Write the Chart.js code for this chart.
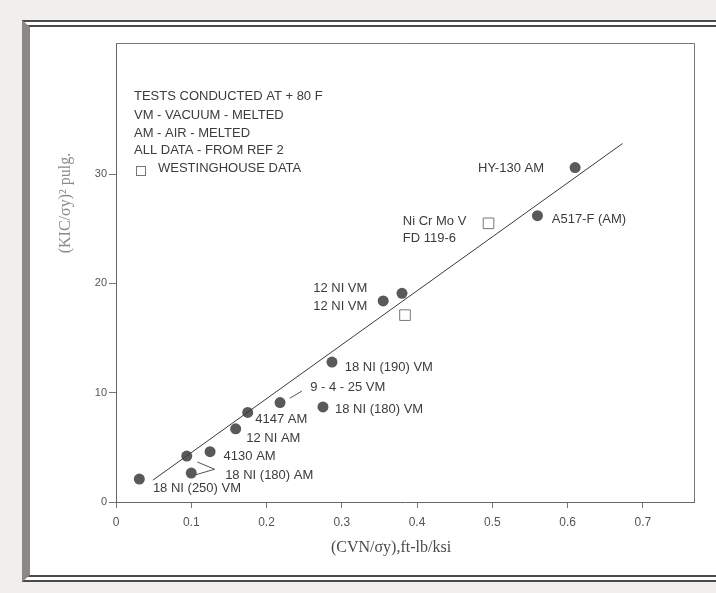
<!DOCTYPE html>
<html lang="en">
<head>
  <meta charset="UTF-8">
  <title>KIC vs CVN</title>
  <script src="https://cdn.jsdelivr.net/npm/chart.js"></script>
  <style>
    html, body { margin: 0; padding: 0; }
    body { width: 716px; height: 593px; background: #f1efed; position: relative; overflow: hidden; font-family: "Liberation Sans", Arial, sans-serif; }
    .frame {
      position: absolute; left: 22px; top: 20px; width: 760px; height: 548px;
      border-top: 7px double #4a4a4a; border-bottom: 7px double #4a4a4a;
      border-left: 8px solid #8d8883; background: #fff;
    }
    canvas { position: absolute; left: 0; top: 0; }
  </style>
</head>
<body>
  <div class="frame"></div>
  <canvas id="chart" width="716" height="593"></canvas>

  <script>
    // alloy data points (filled circles)
    const dotX = [0.031, 0.094, 0.100, 0.125, 0.159, 0.175, 0.218, 0.275, 0.287, 0.355, 0.380, 0.560, 0.610];
    const dotY = [2.1, 4.2, 2.65, 4.6, 6.7, 8.2, 9.1, 8.7, 12.8, 18.4, 19.1, 26.2, 30.6];

    // Westinghouse data (open squares)
    const sqX = [0.384, 0.495];
    const sqY = [17.1, 25.5];

    // fitted line end points
    const fitX = [0.049, 0.673];
    const fitY = [2.0, 32.8];

    const xTicks = [0, 0.1, 0.2, 0.3, 0.4, 0.5, 0.6, 0.7];
    const xTickLabels = ["0", "0.1", "0.2", "0.3", "0.4", "0.5", "0.6", "0.7"];
    const yTicks = [0, 10, 20, 30];
    const yTickLabels = ["0", "10", "20", "30"];

    // point labels, anchored at left / middle in data units
    const labelText = ["HY-130 AM", "A517-F (AM)", "Ni Cr Mo V", "FD 119-6", "12 NI VM", "12 NI VM",
      "18 NI (190) VM", "9 - 4 - 25 VM", "18 NI (180) VM", "4147 AM", "12 NI AM", "4130 AM",
      "18 NI (180) AM", "18 NI (250) VM"];
    const labelX = [0.481, 0.579, 0.381, 0.381, 0.262, 0.262, 0.304, 0.258, 0.291, 0.185, 0.173, 0.143, 0.145, 0.049];
    const labelY = [30.5, 25.9, 25.7, 24.15, 19.5, 17.9, 12.35, 10.5, 8.5, 7.6, 5.85, 4.2, 2.4, 1.2];

    // leader lines
    const lead1X = [0.231, 0.247];
    const lead1Y = [9.5, 10.15];
    const lead2X = [0.108, 0.131, 0.105];
    const lead2Y = [3.66, 3.0, 2.47];

    const notes = ["TESTS CONDUCTED AT + 80 F", "VM - VACUUM - MELTED", "AM - AIR - MELTED", "ALL DATA - FROM REF 2", "WESTINGHOUSE DATA"];

    const pts = (xs, ys) => xs.map((x, i) => ({ x: x, y: ys[i] }));

    const extras = {
      id: "extras",
      beforeDatasetsDraw(chart) {
        const { ctx, chartArea: a } = chart;
        ctx.save();
        ctx.strokeStyle = "#777";
        ctx.lineWidth = 1;
        ctx.beginPath();
        ctx.moveTo(a.left, a.top + 0.5);
        ctx.lineTo(a.right + 0.5, a.top + 0.5);
        ctx.lineTo(a.right + 0.5, a.bottom);
        ctx.stroke();
        ctx.restore();
      },
      afterDatasetsDraw(chart) {
        const { ctx, chartArea: a, scales } = chart;
        ctx.save();
        ctx.fillStyle = "#3c3c3c";
        ctx.font = "13px 'Liberation Sans', Arial, sans-serif";
        ctx.textBaseline = "middle";
        ctx.textAlign = "left";
        labelText.forEach((t, i) => {
          ctx.fillText(t, scales.x.getPixelForValue(labelX[i]), scales.y.getPixelForValue(labelY[i]));
        });

        // notes block
        const lineY = [96, 115, 133, 150, 168];
        notes.forEach((t, i) => {
          const x = i === 4 ? a.left + 42 : a.left + 18;
          ctx.fillText(t, x, lineY[i]);
        });
        ctx.strokeStyle = "#777";
        ctx.lineWidth = 1;
        ctx.strokeRect(a.left + 20.5, 166.5, 9, 9);

        // axis titles
        ctx.fillStyle = "#4a4a4a";
        ctx.font = "16px 'Liberation Serif', 'Times New Roman', serif";
        ctx.textAlign = "center";
        ctx.fillText("(CVN/σy),ft-lb/ksi", 391, 548);

        ctx.fillStyle = "#8a8a8a";
        ctx.translate(66, 203);
        ctx.rotate(-Math.PI / 2);
        ctx.fillText("(KIC/σy)² pulg.", 0, 0);
        ctx.restore();
      }
    };

    new Chart(document.getElementById("chart"), {
      type: "scatter",
      data: {
        datasets: [
          {
            data: pts(fitX, fitY), showLine: true, pointRadius: 0,
            borderColor: "#3a3a3a", borderWidth: 1
          },
          {
            data: pts(lead1X, lead1Y), showLine: true, pointRadius: 0,
            borderColor: "#555", borderWidth: 1
          },
          {
            data: pts(lead2X, lead2Y), showLine: true, pointRadius: 0,
            borderColor: "#555", borderWidth: 1
          },
          {
            data: pts(dotX, dotY), pointRadius: 5.5,
            backgroundColor: "#595959", borderColor: "#595959", borderWidth: 0
          },
          {
            data: pts(sqX, sqY), pointStyle: "rect", pointRadius: 7.5,
            backgroundColor: "#fff", borderColor: "#777", borderWidth: 1
          }
        ]
      },
      options: {
        responsive: false,
        animation: false,
        layout: { padding: { left: 0, right: 22, top: 43, bottom: 51 } },
        plugins: { legend: { display: false }, tooltip: { enabled: false } },
        scales: {
          x: {
            type: "linear", min: 0, max: 0.768,
            afterBuildTicks: s => { s.ticks = xTicks.map(v => ({ value: v })); },
            afterFit: s => { s.height = 40; },
            grid: { drawOnChartArea: false, drawTicks: true, tickLength: 6, color: "#777" },
            border: { color: "#666", width: 1 },
            ticks: {
              padding: 7, color: "#555", font: { family: "'Liberation Sans', Arial, sans-serif", size: 12 },
              callback: (v, i) => xTickLabels[i]
            }
          },
          y: {
            type: "linear", min: 0, max: 42,
            afterBuildTicks: s => { s.ticks = yTicks.map(v => ({ value: v })); },
            afterFit: s => { s.width = 116; },
            grid: { drawOnChartArea: false, drawTicks: true, tickLength: 7, color: "#777" },
            border: { color: "#666", width: 1 },
            ticks: {
              padding: 2, color: "#555", font: { family: "'Liberation Sans', Arial, sans-serif", size: 11 },
              callback: (v, i) => yTickLabels[i]
            }
          }
        }
      },
      plugins: [extras]
    });
  </script>
</body>
</html>
